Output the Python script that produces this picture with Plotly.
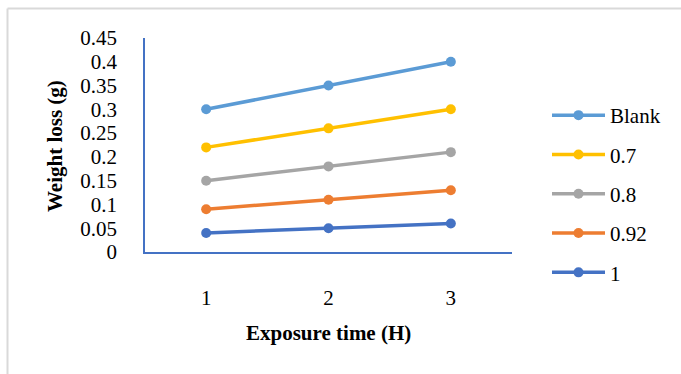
import plotly.graph_objects as go

# Weight loss (g) versus exposure time (H) for each inhibitor concentration
exposure_time = [1, 2, 3]
series_names = ["Blank", "0.7", "0.8", "0.92", "1"]
weight_blank = [0.30, 0.35, 0.40]
weight_07 = [0.22, 0.26, 0.30]
weight_08 = [0.15, 0.18, 0.21]
weight_092 = [0.09, 0.11, 0.13]
weight_1 = [0.04, 0.05, 0.06]
y_ticks = [0, 0.05, 0.1, 0.15, 0.2, 0.25, 0.3, 0.35, 0.4, 0.45]
y_tick_text = ["0", "0.05", "0.1", "0.15", "0.2", "0.25", "0.3", "0.35", "0.4", "0.45"]

series_values = [weight_blank, weight_07, weight_08, weight_092, weight_1]
colors = ["#5B9BD5", "#FFC000", "#A5A5A5", "#ED7D31", "#4472C4"]

W, H = 681, 374
L, R, T, B = 145, 169, 38, 122
pw, ph = W - L - R, H - T - B

font = "Liberation Serif"
fs = 21

fig = go.Figure()
for name, vals, col in zip(series_names, series_values, colors):
    fig.add_trace(go.Scatter(
        x=exposure_time, y=vals, name=name, mode="lines+markers",
        line=dict(color=col, width=3.5),
        marker=dict(color=col, size=10),
        legendgroup=name,
    ))


def px_x(v):
    return (v - L) / pw


def px_y(v):
    return (H - B - v) / ph


# light grey frame around the chart area (top and left edges)
frame = "#D9D9D9"
fig.add_shape(type="line", xref="paper", yref="paper",
              x0=px_x(7.5), x1=px_x(W + 5), y0=px_y(8.5), y1=px_y(8.5),
              line=dict(color=frame, width=2))
fig.add_shape(type="line", xref="paper", yref="paper",
              x0=px_x(7.5), x1=px_x(7.5), y0=px_y(8.5), y1=px_y(H + 5),
              line=dict(color=frame, width=2))

fig.add_annotation(text="<b>Weight loss (g)</b>", xref="paper", yref="paper",
                   x=px_x(55), y=px_y(146), textangle=-90, showarrow=False,
                   xanchor="center", yanchor="middle",
                   font=dict(family=font, size=fs, color="black"))
fig.add_annotation(text="<b>Exposure time (H)</b>", xref="paper", yref="paper",
                   x=px_x(328), y=px_y(333), showarrow=False,
                   xanchor="center", yanchor="middle",
                   font=dict(family=font, size=fs, color="black"))

fig.update_layout(
    width=W, height=H,
    margin=dict(l=L, r=R, t=T, b=B),
    paper_bgcolor="white", plot_bgcolor="white",
    font=dict(family=font, size=fs, color="black"),
    legend=dict(x=px_x(547), y=px_y(95), xanchor="left", yanchor="top",
                font=dict(family=font, size=fs, color="black"),
                tracegroupgap=9, traceorder="grouped", itemwidth=53,
                maxheight=330, bgcolor="rgba(0,0,0,0)"),
    xaxis=dict(range=[0.5, 3.5], tickvals=exposure_time, showgrid=False,
               zeroline=False, showline=True, linecolor="#4472C4", linewidth=1.5,
               ticks="outside", ticklen=26, tickcolor="rgba(0,0,0,0)",
               tickfont=dict(family=font, size=fs)),
    yaxis=dict(range=[0, 0.45], tickvals=y_ticks, ticktext=y_tick_text,
               showgrid=False, zeroline=False, showline=True,
               linecolor="#4472C4", linewidth=1.5,
               ticks="outside", ticklen=22, tickcolor="rgba(0,0,0,0)",
               tickfont=dict(family=font, size=fs)),
)

fig.write_html("out.html")
